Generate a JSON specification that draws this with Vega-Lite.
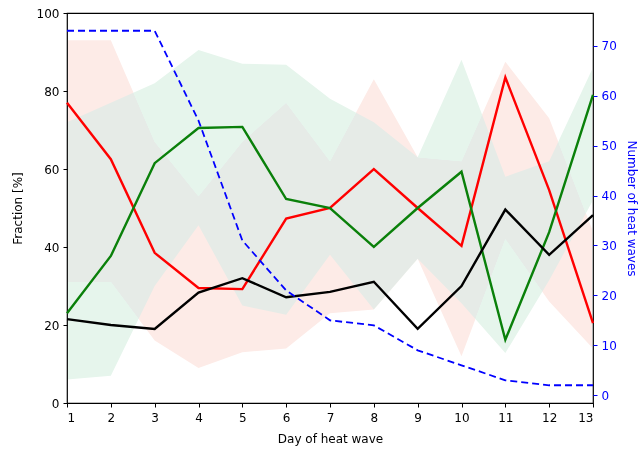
{
  "$schema": "https://vega.github.io/schema/vega-lite/v6.json",
  "width": 526,
  "height": 390,
  "autosize": {"type": "none"},
  "padding": {"left": 67, "top": 13, "right": 47, "bottom": 48},
  "background": "white",
  "config": {
    "font": "DejaVu Sans",
    "view": {"stroke": "black", "strokeWidth": 1.2},
    "axis": {"grid": false, "domain": false, "labelFontSize": 12, "titleFontSize": 12, "titleFontWeight": "normal", "labelColor": "black", "titleColor": "black", "tickColor": "black", "tickSize": 4}
  },
  "datasets": {
    "lines": [
      {"day": 1, "series": "red", "value": 77}, {"day": 2, "series": "red", "value": 62.5}, {"day": 3, "series": "red", "value": 38.5}, {"day": 4, "series": "red", "value": 29.5}, {"day": 5, "series": "red", "value": 29.2}, {"day": 6, "series": "red", "value": 47.3}, {"day": 7, "series": "red", "value": 50}, {"day": 8, "series": "red", "value": 60}, {"day": 9, "series": "red", "value": 50}, {"day": 10, "series": "red", "value": 40.3}, {"day": 11, "series": "red", "value": 83.5}, {"day": 12, "series": "red", "value": 54.6}, {"day": 13, "series": "red", "value": 20.5},
      {"day": 1, "series": "green", "value": 23}, {"day": 2, "series": "green", "value": 37.7}, {"day": 3, "series": "green", "value": 61.5}, {"day": 4, "series": "green", "value": 70.5}, {"day": 5, "series": "green", "value": 70.8}, {"day": 6, "series": "green", "value": 52.3}, {"day": 7, "series": "green", "value": 50}, {"day": 8, "series": "green", "value": 40}, {"day": 9, "series": "green", "value": 50}, {"day": 10, "series": "green", "value": 59.3}, {"day": 11, "series": "green", "value": 16.2}, {"day": 12, "series": "green", "value": 43.8}, {"day": 13, "series": "green", "value": 79},
      {"day": 1, "series": "black", "value": 21.5}, {"day": 2, "series": "black", "value": 20}, {"day": 3, "series": "black", "value": 19}, {"day": 4, "series": "black", "value": 28.3}, {"day": 5, "series": "black", "value": 32}, {"day": 6, "series": "black", "value": 27.1}, {"day": 7, "series": "black", "value": 28.5}, {"day": 8, "series": "black", "value": 31.1}, {"day": 9, "series": "black", "value": 19}, {"day": 10, "series": "black", "value": 30}, {"day": 11, "series": "black", "value": 49.6}, {"day": 12, "series": "black", "value": 38}, {"day": 13, "series": "black", "value": 48.2}
    ],
    "bands": [
      {"day": 1, "series": "red", "lo": 31, "hi": 93}, {"day": 2, "series": "red", "lo": 31, "hi": 93}, {"day": 3, "series": "red", "lo": 16, "hi": 67}, {"day": 4, "series": "red", "lo": 9, "hi": 53}, {"day": 5, "series": "red", "lo": 13, "hi": 67}, {"day": 6, "series": "red", "lo": 14, "hi": 77}, {"day": 7, "series": "red", "lo": 23, "hi": 62}, {"day": 8, "series": "red", "lo": 24, "hi": 83}, {"day": 9, "series": "red", "lo": 37, "hi": 63}, {"day": 10, "series": "red", "lo": 12, "hi": 62}, {"day": 11, "series": "red", "lo": 42, "hi": 87.5}, {"day": 12, "series": "red", "lo": 26, "hi": 73}, {"day": 13, "series": "red", "lo": 14, "hi": 44},
      {"day": 1, "series": "green", "lo": 6, "hi": 72}, {"day": 2, "series": "green", "lo": 7, "hi": 77}, {"day": 3, "series": "green", "lo": 30, "hi": 82}, {"day": 4, "series": "green", "lo": 45.6, "hi": 90.5}, {"day": 5, "series": "green", "lo": 25, "hi": 87}, {"day": 6, "series": "green", "lo": 22.6, "hi": 86.7}, {"day": 7, "series": "green", "lo": 38, "hi": 78}, {"day": 8, "series": "green", "lo": 24, "hi": 72}, {"day": 9, "series": "green", "lo": 37, "hi": 63}, {"day": 10, "series": "green", "lo": 25.6, "hi": 88}, {"day": 11, "series": "green", "lo": 12.8, "hi": 58}, {"day": 12, "series": "green", "lo": 31.5, "hi": 62}, {"day": 13, "series": "green", "lo": 52, "hi": 86}
    ],
    "count": [
      {"day": 1, "n": 73}, {"day": 2, "n": 73}, {"day": 3, "n": 73}, {"day": 4, "n": 55}, {"day": 5, "n": 31}, {"day": 6, "n": 21}, {"day": 7, "n": 15}, {"day": 8, "n": 14}, {"day": 9, "n": 9}, {"day": 10, "n": 6}, {"day": 11, "n": 3}, {"day": 12, "n": 2}, {"day": 13, "n": 2}
    ]
  },
  "encoding": {
    "x": {"field": "day", "type": "quantitative", "scale": {"domain": [1, 13], "nice": false, "zero": false}, "axis": {"title": "Day of heat wave", "values": [1,2,3,4,5,6,7,8,9,10,11,12,13], "format": "d", "labelPadding": 5, "titlePadding": 10}}
  },
  "layer": [
    {
      "layer": [
        {
          "data": {"name": "bands"},
          "transform": [{"filter": "datum.series === 'red'"}],
          "mark": {"type": "area", "color": "#fdebe7", "opacity": 1, "blend": "darken"},
          "encoding": {
            "y": {"field": "lo", "type": "quantitative", "scale": {"domain": [0, 100], "nice": false}, "axis": {"title": "Fraction [%]", "values": [0,20,40,60,80,100], "labelPadding": 4, "titlePadding": 12}},
            "y2": {"field": "hi"}
          }
        },
        {
          "data": {"name": "bands"},
          "transform": [{"filter": "datum.series === 'green'"}],
          "mark": {"type": "area", "color": "#e6f5ec", "opacity": 1, "blend": "darken"},
          "encoding": {
            "y": {"field": "lo", "type": "quantitative"},
            "y2": {"field": "hi"}
          }
        },
        {
          "data": {"name": "lines"},
          "mark": {"type": "line", "strokeWidth": 2.4},
          "encoding": {
            "y": {"field": "value", "type": "quantitative"},
            "color": {"field": "series", "type": "nominal", "scale": {"domain": ["red", "green", "black"], "range": ["#ff0000", "#0a800a", "#000000"]}, "legend": null}
          }
        }
      ]
    },
    {
      "data": {"name": "count"},
      "mark": {"type": "line", "color": "#0000ff", "strokeWidth": 1.8, "strokeDash": [7, 4]},
      "encoding": {
        "y": {"field": "n", "type": "quantitative", "scale": {"domain": [-1.55, 76.55], "nice": false, "zero": false}, "axis": {"orient": "right", "title": "Number of heat waves", "values": [0,10,20,30,40,50,60,70], "labelColor": "#0000ff", "titleColor": "#0000ff", "tickColor": "#0000ff", "labelPadding": 4, "titlePadding": 8}}
      }
    }
  ],
  "resolve": {"scale": {"y": "independent"}}
}
